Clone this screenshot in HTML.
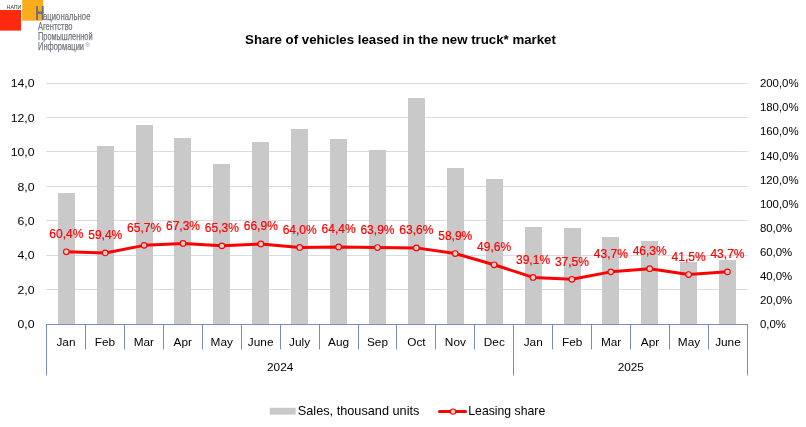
<!DOCTYPE html>
<html lang="en"><head><meta charset="utf-8"><title>Share of vehicles leased in the new truck* market</title>
<style>
html,body{margin:0;padding:0;background:#fff;}
body{width:806px;height:427px;overflow:hidden;font-family:"Liberation Sans",sans-serif;}
svg{display:block;}
text{font-family:"Liberation Sans",sans-serif;}
.ax{font-size:11.8px;fill:#000;}
.dl{font-size:12.8px;fill:#ff0000;stroke:#ff0000;stroke-width:0.22px;}
</style></head><body>
<svg width="806" height="427" viewBox="0 0 806 427">
<rect width="806" height="427" fill="#fff"/>
<g id="logo">
<rect x="0" y="10" width="21" height="20.6" fill="#ff2a0e"/>
<rect x="22.2" y="0" width="20.8" height="20.7" fill="#fbab1c"/>
<text x="6.6" y="8.8" font-size="5.2" fill="#333" textLength="14.8" lengthAdjust="spacingAndGlyphs">НАПИ</text>
<text transform="translate(35.3,19.75) scale(0.647,1)" font-size="19.9" font-weight="bold" fill="#6a6e80">Н</text>
<text x="43" y="20.2" font-size="10.6" fill="#74767f" stroke="#74767f" stroke-width="0.25" textLength="47.5" lengthAdjust="spacingAndGlyphs">ациональное</text>
<text x="38" y="30" font-size="10.6" fill="#74767f" stroke="#74767f" stroke-width="0.25" textLength="34.5" lengthAdjust="spacingAndGlyphs">Агентство</text>
<text x="38" y="40" font-size="10.6" fill="#74767f" stroke="#74767f" stroke-width="0.25" textLength="54.5" lengthAdjust="spacingAndGlyphs">Промышленной</text>
<text x="38" y="50" font-size="10.6" fill="#74767f" stroke="#74767f" stroke-width="0.25" textLength="46" lengthAdjust="spacingAndGlyphs">Информации</text>
<text x="85.3" y="47" font-size="6.2" fill="#85878f">®</text>
</g>
<text x="400.5" y="43.85" text-anchor="middle" font-size="13.25" font-weight="bold" fill="#000">Share of vehicles leased in the new truck* market</text>
<g stroke="#d6dce5" stroke-width="1">
<line x1="46.2" y1="83.50" x2="747.7" y2="83.50"/>
<line x1="46.2" y1="117.50" x2="747.7" y2="117.50"/>
<line x1="46.2" y1="151.50" x2="747.7" y2="151.50"/>
<line x1="46.2" y1="186.50" x2="747.7" y2="186.50"/>
<line x1="46.2" y1="220.50" x2="747.7" y2="220.50"/>
<line x1="46.2" y1="255.50" x2="747.7" y2="255.50"/>
<line x1="46.2" y1="289.50" x2="747.7" y2="289.50"/>
</g>
<g fill="#c9c9c9">
<rect x="58" y="193" width="17" height="131"/>
<rect x="97" y="146" width="17" height="178"/>
<rect x="136" y="125" width="17" height="199"/>
<rect x="174" y="138" width="17" height="186"/>
<rect x="213" y="164" width="17" height="160"/>
<rect x="252" y="142" width="17" height="182"/>
<rect x="291" y="129" width="17" height="195"/>
<rect x="330" y="139" width="17" height="185"/>
<rect x="369" y="150" width="17" height="174"/>
<rect x="408" y="98" width="17" height="226"/>
<rect x="447" y="168" width="17" height="156"/>
<rect x="486" y="179" width="17" height="145"/>
<rect x="525" y="227" width="17" height="97"/>
<rect x="564" y="228" width="17" height="96"/>
<rect x="602" y="237" width="17" height="87"/>
<rect x="641" y="241" width="17" height="83"/>
<rect x="680" y="262" width="17" height="62"/>
<rect x="719" y="260" width="17" height="64"/>
</g>
<g stroke="#7a8fb0" stroke-width="1" fill="none">
<line x1="46" y1="324.5" x2="748" y2="324.5"/>
<line x1="46.5" y1="324" x2="46.5" y2="375.5"/>
<line x1="85.5" y1="324" x2="85.5" y2="349.5"/>
<line x1="124.5" y1="324" x2="124.5" y2="349.5"/>
<line x1="163.5" y1="324" x2="163.5" y2="349.5"/>
<line x1="202.5" y1="324" x2="202.5" y2="349.5"/>
<line x1="241.5" y1="324" x2="241.5" y2="349.5"/>
<line x1="280.5" y1="324" x2="280.5" y2="349.5"/>
<line x1="319.5" y1="324" x2="319.5" y2="349.5"/>
<line x1="358.5" y1="324" x2="358.5" y2="349.5"/>
<line x1="396.5" y1="324" x2="396.5" y2="349.5"/>
<line x1="435.5" y1="324" x2="435.5" y2="349.5"/>
<line x1="474.5" y1="324" x2="474.5" y2="349.5"/>
<line x1="513.5" y1="324" x2="513.5" y2="375.5"/>
<line x1="552.5" y1="324" x2="552.5" y2="349.5"/>
<line x1="591.5" y1="324" x2="591.5" y2="349.5"/>
<line x1="630.5" y1="324" x2="630.5" y2="349.5"/>
<line x1="669.5" y1="324" x2="669.5" y2="349.5"/>
<line x1="708.5" y1="324" x2="708.5" y2="349.5"/>
<line x1="747.5" y1="324" x2="747.5" y2="375.5"/>
</g>
<g class="ax" text-anchor="end">
<text transform="translate(34.5,328.10) scale(1.04,1)">0,0</text>
<text transform="translate(34.5,293.70) scale(1.04,1)">2,0</text>
<text transform="translate(34.5,259.30) scale(1.04,1)">4,0</text>
<text transform="translate(34.5,224.90) scale(1.04,1)">6,0</text>
<text transform="translate(34.5,190.50) scale(1.04,1)">8,0</text>
<text transform="translate(34.5,156.10) scale(1.04,1)">10,0</text>
<text transform="translate(34.5,121.70) scale(1.04,1)">12,0</text>
<text transform="translate(34.5,87.30) scale(1.04,1)">14,0</text>
</g>
<g class="ax" text-anchor="start">
<text transform="translate(759.9,328.10) scale(0.968,1)">0,0%</text>
<text transform="translate(759.9,304.02) scale(0.968,1)">20,0%</text>
<text transform="translate(759.9,279.94) scale(0.968,1)">40,0%</text>
<text transform="translate(759.9,255.86) scale(0.968,1)">60,0%</text>
<text transform="translate(759.9,231.78) scale(0.968,1)">80,0%</text>
<text transform="translate(759.9,207.70) scale(0.968,1)">100,0%</text>
<text transform="translate(759.9,183.62) scale(0.968,1)">120,0%</text>
<text transform="translate(759.9,159.54) scale(0.968,1)">140,0%</text>
<text transform="translate(759.9,135.46) scale(0.968,1)">160,0%</text>
<text transform="translate(759.9,111.38) scale(0.968,1)">180,0%</text>
<text transform="translate(759.9,87.30) scale(0.968,1)">200,0%</text>
</g>
<g class="ax" text-anchor="middle">
<text x="65.97" y="345.9">Jan</text>
<text x="104.91" y="345.9">Feb</text>
<text x="143.85" y="345.9">Mar</text>
<text x="182.79" y="345.9">Apr</text>
<text x="221.72" y="345.9">May</text>
<text x="260.66" y="345.9">June</text>
<text x="299.60" y="345.9">July</text>
<text x="338.54" y="345.9">Aug</text>
<text x="377.48" y="345.9">Sep</text>
<text x="416.42" y="345.9">Oct</text>
<text x="455.36" y="345.9">Nov</text>
<text x="494.30" y="345.9">Dec</text>
<text x="533.24" y="345.9">Jan</text>
<text x="572.18" y="345.9">Feb</text>
<text x="611.11" y="345.9">Mar</text>
<text x="650.05" y="345.9">Apr</text>
<text x="688.99" y="345.9">May</text>
<text x="727.93" y="345.9">June</text>
<text x="280.2" y="371.1">2024</text>
<text x="630.8" y="371.1">2025</text>
</g>
<polyline fill="none" stroke="#ff0000" stroke-width="3" stroke-linejoin="round" stroke-linecap="round" points="66.35,251.75 105.24,252.95 144.13,245.36 183.02,243.44 221.91,245.85 260.80,243.92 299.69,247.41 338.58,246.93 377.47,247.53 416.36,247.89 455.25,253.55 494.14,264.76 533.03,277.40 571.92,279.33 610.81,271.86 649.70,268.73 688.59,274.51 727.48,271.86"/>
<g fill="#d2d4d4" stroke="#ff0000" stroke-width="1.15">
<circle cx="66.35" cy="251.75" r="2.8"/>
<circle cx="105.24" cy="252.95" r="2.8"/>
<circle cx="144.13" cy="245.36" r="2.8"/>
<circle cx="183.02" cy="243.44" r="2.8"/>
<circle cx="221.91" cy="245.85" r="2.8"/>
<circle cx="260.80" cy="243.92" r="2.8"/>
<circle cx="299.69" cy="247.41" r="2.8"/>
<circle cx="338.58" cy="246.93" r="2.8"/>
<circle cx="377.47" cy="247.53" r="2.8"/>
<circle cx="416.36" cy="247.89" r="2.8"/>
<circle cx="455.25" cy="253.55" r="2.8"/>
<circle cx="494.14" cy="264.76" r="2.8"/>
<circle cx="533.03" cy="277.40" r="2.8"/>
<circle cx="571.92" cy="279.33" r="2.8"/>
<circle cx="610.81" cy="271.86" r="2.8"/>
<circle cx="649.70" cy="268.73" r="2.8"/>
<circle cx="688.59" cy="274.51" r="2.8"/>
<circle cx="727.48" cy="271.86" r="2.8"/>
</g>
<g class="dl" text-anchor="middle">
<text transform="translate(66.35,238.15) scale(0.94,1)">60,4%</text>
<text transform="translate(105.24,239.35) scale(0.94,1)">59,4%</text>
<text transform="translate(144.13,231.76) scale(0.94,1)">65,7%</text>
<text transform="translate(183.02,229.84) scale(0.94,1)">67,3%</text>
<text transform="translate(221.91,232.25) scale(0.94,1)">65,3%</text>
<text transform="translate(260.80,230.32) scale(0.94,1)">66,9%</text>
<text transform="translate(299.69,233.81) scale(0.94,1)">64,0%</text>
<text transform="translate(338.58,233.33) scale(0.94,1)">64,4%</text>
<text transform="translate(377.47,233.93) scale(0.94,1)">63,9%</text>
<text transform="translate(416.36,234.29) scale(0.94,1)">63,6%</text>
<text transform="translate(455.25,239.95) scale(0.94,1)">58,9%</text>
<text transform="translate(494.14,251.16) scale(0.94,1)">49,6%</text>
<text transform="translate(533.03,263.80) scale(0.94,1)">39,1%</text>
<text transform="translate(571.92,265.73) scale(0.94,1)">37,5%</text>
<text transform="translate(610.81,258.26) scale(0.94,1)">43,7%</text>
<text transform="translate(649.70,255.13) scale(0.94,1)">46,3%</text>
<text transform="translate(688.59,260.91) scale(0.94,1)">41,5%</text>
<text transform="translate(727.48,258.26) scale(0.94,1)">43,7%</text>
</g>
<rect x="269.7" y="407.8" width="26" height="6.8" fill="#c9c9c9"/>
<text x="297.8" y="415.3" font-size="12.8" fill="#000" textLength="121.6" lengthAdjust="spacingAndGlyphs">Sales, thousand units</text>
<line x1="439.5" y1="411.5" x2="465.5" y2="411.5" stroke="#ff0000" stroke-width="3" stroke-linecap="round"/>
<circle cx="453" cy="411.6" r="2.7" fill="#d2d4d4" stroke="#ff0000" stroke-width="1.05"/>
<text x="468.3" y="415.3" font-size="12.8" fill="#000" textLength="76.9" lengthAdjust="spacingAndGlyphs">Leasing share</text>
</svg>
</body></html>
